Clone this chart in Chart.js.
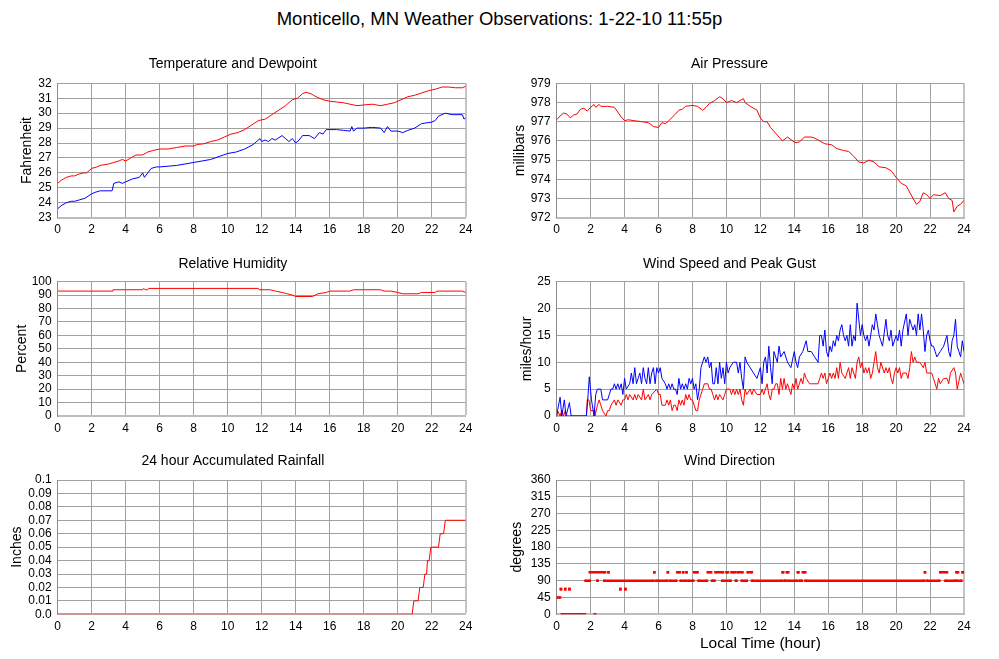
<!DOCTYPE html>
<html>
<head>
<meta charset="utf-8">
<title>Monticello, MN Weather Observations</title>
<script src="https://cdn.jsdelivr.net/npm/chart.js@4.4.1/dist/chart.umd.min.js"></script>
<style>
  body { margin: 0; background: #fff; }
  #page { position: relative; width: 999px; height: 659px; overflow: hidden; }
  #mainTitle {
    position: absolute; left: 0; top: 8px; width: 999px; line-height: 24px;
    text-align: center; font: 18.5px 'Liberation Sans', Arial, sans-serif; color: #000;
  }
  canvas { position: absolute; }
</style>
</head>
<body>
<div id="page">
  <div id="mainTitle">Monticello, MN Weather Observations: 1-22-10 11:55p</div>
  <canvas id="tempChart" width="490" height="190" style="left:0;top:50px"></canvas>
  <canvas id="presChart" width="495" height="190" style="left:495px;top:50px"></canvas>
  <canvas id="humChart" width="490" height="190" style="left:0;top:250px"></canvas>
  <canvas id="windChart" width="495" height="190" style="left:495px;top:250px"></canvas>
  <canvas id="rainChart" width="490" height="200" style="left:0;top:447px"></canvas>
  <canvas id="dirChart" width="495" height="212" style="left:495px;top:447px"></canvas>
</div>

<script>
// ---- data (hours are local time, 0-24) ----
var hourTicks = [0, 2, 4, 6, 8, 10, 12, 14, 16, 18, 20, 22, 24];

var tempTicks = [23, 24, 25, 26, 27, 28, 29, 30, 31, 32];
var tempHours = [0, 0.2, 0.5, 0.8, 1, 1.2, 1.5, 1.7, 2, 2.3, 2.5, 3, 3.3, 3.6, 3.8, 4, 4.3, 4.6, 5, 5.3, 5.6, 6, 6.5, 7, 7.5, 8, 8.2, 8.6, 9, 9.4, 9.8, 10.2, 10.6, 11, 11.4, 11.8, 12.2, 12.6, 13, 13.4, 13.8, 14.1, 14.4, 14.6, 14.9, 15.2, 15.6, 16, 16.4, 16.8, 17.2, 17.6, 18, 18.5, 19, 19.4, 19.8, 20.2, 20.6, 21, 21.4, 21.8, 22.2, 22.6, 23, 23.4, 23.8, 24];
var tempVals  = [25.3, 25.5, 25.7, 25.8, 25.8, 25.9, 26.0, 26.0, 26.3, 26.4, 26.5, 26.6, 26.7, 26.8, 26.9, 26.8, 27.0, 27.2, 27.2, 27.4, 27.5, 27.6, 27.6, 27.7, 27.8, 27.8, 27.9, 27.95, 28.1, 28.2, 28.4, 28.6, 28.7, 28.9, 29.2, 29.5, 29.6, 29.9, 30.2, 30.5, 30.9, 31.0, 31.3, 31.4, 31.3, 31.1, 30.9, 30.8, 30.75, 30.7, 30.6, 30.5, 30.55, 30.6, 30.5, 30.6, 30.7, 30.9, 31.1, 31.2, 31.35, 31.5, 31.6, 31.75, 31.75, 31.7, 31.7, 31.8];
var dewHours = [0, 0.2, 0.5, 0.8, 1, 1.3, 1.6, 2, 2.2, 2.5, 3.2, 3.3, 3.6, 3.8, 4, 4.4, 4.8, 5, 5.1, 5.3, 5.5, 5.8, 6, 6.5, 7, 7.5, 8, 8.5, 9, 9.5, 10, 10.5, 11, 11.5, 11.9, 12, 12.2, 12.4, 12.6, 12.8, 13, 13.2, 13.4, 13.6, 13.8, 14, 14.2, 14.4, 14.8, 15.1, 15.4, 15.6, 15.8, 16, 16.4, 16.8, 17.2, 17.3, 17.4, 17.6, 18, 18.5, 19, 19.2, 19.4, 19.6, 20, 20.3, 20.6, 21, 21.4, 22, 22.2, 22.4, 22.8, 23.2, 23.8, 23.9, 24];
var dewVals  = [23.6, 23.8, 24.0, 24.1, 24.1, 24.2, 24.3, 24.6, 24.7, 24.8, 24.8, 25.3, 25.4, 25.3, 25.4, 25.6, 25.7, 26.0, 25.7, 26.0, 26.3, 26.4, 26.4, 26.45, 26.5, 26.6, 26.7, 26.8, 26.9, 27.1, 27.3, 27.4, 27.6, 27.9, 28.3, 28.1, 28.2, 28.1, 28.3, 28.2, 28.35, 28.5, 28.3, 28.1, 28.3, 28.0, 28.2, 28.5, 28.5, 28.3, 28.7, 28.6, 28.9, 28.9, 28.9, 28.85, 28.8, 29.1, 28.8, 29.0, 29.0, 29.05, 29.0, 28.7, 29.1, 28.8, 28.8, 28.7, 28.85, 29.0, 29.3, 29.4, 29.5, 29.8, 30.0, 29.9, 29.9, 29.6, 29.7];

var presTicks = [972, 973, 974, 975, 976, 977, 978, 979];
var presHours = [0, 0.2, 0.4, 0.6, 0.8, 1.0, 1.2, 1.4, 1.6, 1.8, 2.0, 2.2, 2.3, 2.5, 2.6, 3.0, 3.4, 3.6, 3.8, 4.0, 4.2, 4.6, 5.0, 5.4, 5.7, 6.0, 6.2, 6.4, 6.6, 7.0, 7.2, 7.4, 7.6, 8.0, 8.3, 8.6, 8.8, 9.0, 9.3, 9.6, 9.8, 10.0, 10.3, 10.6, 11.0, 11.1, 11.4, 11.8, 12.0, 12.2, 12.4, 12.6, 13.0, 13.3, 13.6, 13.9, 14.1, 14.3, 14.6, 15.0, 15.2, 15.5, 15.8, 16.2, 16.5, 16.9, 17.2, 17.5, 17.8, 18.1, 18.4, 18.7, 19.0, 19.4, 19.7, 20.0, 20.3, 20.6, 21.0, 21.2, 21.4, 21.6, 21.8, 22.0, 22.2, 22.6, 22.9, 23.1, 23.3, 23.4, 23.6, 23.8, 24.0];
var presVals  = [977.1, 977.3, 977.45, 977.4, 977.2, 977.35, 977.4, 977.65, 977.7, 977.55, 977.75, 977.9, 977.75, 977.9, 977.8, 977.8, 977.75, 977.5, 977.25, 977.05, 977.1, 977.05, 977.0, 976.95, 976.75, 976.7, 976.95, 976.9, 977.05, 977.4, 977.6, 977.65, 977.8, 977.85, 977.8, 977.6, 977.75, 977.95, 978.1, 978.3, 978.2, 978.0, 978.1, 978.0, 978.2, 978.0, 977.8, 977.6, 977.2, 977.0, 977.0, 976.7, 976.3, 976.0, 976.2, 976.0, 975.9, 975.95, 976.2, 976.2, 976.15, 976.0, 975.85, 975.8, 975.6, 975.5, 975.45, 975.2, 974.9, 974.85, 975.0, 974.9, 974.65, 974.6, 974.45, 974.1, 973.8, 973.65, 973.0, 972.7, 972.85, 973.3, 973.2, 973.0, 973.2, 973.15, 973.3, 973.0, 972.9, 972.3, 972.6, 972.7, 972.9];

var humTicks = [0, 10, 20, 30, 40, 50, 60, 70, 80, 90, 100];
var humHours = [0, 3.2, 3.25, 5.0, 5.05, 5.15, 5.3, 5.35, 11.8, 11.85, 11.9, 12.5, 12.8, 13.2, 13.5, 13.8, 14.0, 15.0, 15.3, 15.8, 16.0, 17.2, 17.4, 19.0, 19.2, 19.6, 20.0, 20.3, 21.2, 21.4, 22.2, 22.3, 23.8, 24];
var humVals  = [93, 93, 94, 94, 95, 94, 94, 95, 95, 94, 94, 94, 93, 92, 91, 90, 89, 89, 91, 92, 93, 93, 94, 94, 93, 93, 92, 91, 91, 92, 92, 93, 93, 92];

var windTicks = [0, 5, 10, 15, 20, 25];
var gustHours = [0, 0.05, 0.2, 0.3, 0.45, 0.55, 0.75, 0.85, 1.75, 1.85, 1.92, 2.05, 2.2, 2.3, 2.4, 2.6, 2.7, 3.0, 3.1, 3.2, 3.3, 3.4, 3.5, 3.6, 3.7, 3.8, 3.9, 4.0, 4.1, 4.3, 4.4, 4.5, 4.6, 4.7, 4.8, 4.9, 5.0, 5.1, 5.2, 5.3, 5.4, 5.5, 5.6, 5.7, 5.8, 5.9, 6.0, 6.1, 6.2, 6.4, 6.5, 6.6, 6.7, 6.8, 6.9, 7.0, 7.1, 7.2, 7.3, 7.4, 7.5, 7.6, 7.7, 7.8, 7.9, 8.0, 8.1, 8.2, 8.3, 8.4, 8.5, 8.6, 8.7, 8.8, 8.9, 9.0, 9.1, 9.2, 9.3, 9.4, 9.5, 9.6, 9.7, 9.8, 9.9, 10.0, 10.1, 10.2, 10.4, 10.6, 10.7, 10.8, 10.9, 11.0, 11.1, 11.2, 11.4, 11.6, 11.8, 12.0, 12.1, 12.2, 12.3, 12.4, 12.5, 12.6, 12.7, 12.8, 12.9, 13.0, 13.1, 13.2, 13.4, 13.6, 13.8, 14.0, 14.1, 14.2, 14.3, 14.5, 14.7, 14.8, 15.0, 15.2, 15.4, 15.5, 15.6, 15.7, 15.8, 15.9, 16.0, 16.1, 16.2, 16.3, 16.4, 16.5, 16.6, 16.7, 16.8, 16.9, 17.0, 17.1, 17.2, 17.3, 17.4, 17.5, 17.6, 17.7, 17.8, 17.9, 18.0, 18.1, 18.2, 18.3, 18.4, 18.6, 18.7, 18.8, 18.9, 19.0, 19.1, 19.2, 19.4, 19.5, 19.6, 19.7, 19.8, 20.0, 20.1, 20.2, 20.3, 20.4, 20.6, 20.7, 20.8, 20.9, 21.0, 21.1, 21.2, 21.3, 21.4, 21.5, 21.6, 21.7, 21.8, 21.9, 22.0, 22.1, 22.2, 22.3, 22.4, 22.6, 22.8, 23.0, 23.1, 23.2, 23.3, 23.4, 23.5, 23.6, 23.7, 23.8, 23.9, 24.0];
var gustVals  = [0, 1, 3.5, 0, 3, 0, 2.5, 0, 0, 4, 7.3, 3, 0, 4, 5, 5, 3, 3, 4, 5, 5, 6, 5, 6, 5, 6, 4, 7, 5, 6, 8, 6, 9, 6, 7, 8, 6, 9, 7, 6, 9, 6, 8, 9, 6, 9, 8, 9, 7, 6, 5, 6, 5, 6, 5, 5, 4, 7, 5, 6, 5, 6, 5, 7, 6, 7, 5, 6, 3, 5, 9, 10, 11, 10, 11, 9, 10, 6, 6, 9, 6, 10, 7, 9, 6, 10, 8, 9, 10, 10, 8, 10, 7, 5, 11, 10, 9, 8, 7, 9, 6, 10, 11, 8, 13, 9, 6, 12, 11, 10, 13, 11, 12, 10, 9, 12, 10, 9, 11, 12, 14, 12, 12, 11, 10, 15, 15, 13, 16, 12, 11, 13, 12, 14, 13, 15, 14, 16, 17, 15, 14, 15, 13, 17, 13, 15, 14, 21, 18, 15, 17, 15, 14, 15, 13, 17, 16, 19, 17, 15, 14, 13, 18, 15, 14, 16, 13, 15, 14, 16, 13, 16, 19, 15, 18, 17, 16, 17, 15, 19, 16, 19, 16, 12, 15, 16, 14, 13, 13, 12, 11, 12, 13, 15, 12, 11, 14, 15, 18, 13, 12, 11, 14, 12];
var sustHours = [0, 0.05, 0.2, 0.3, 0.4, 0.5, 0.6, 1.75, 1.8, 1.9, 2.0, 2.2, 2.25, 2.4, 2.5, 2.6, 2.7, 2.9, 3.0, 3.1, 3.2, 3.4, 3.5, 3.6, 3.8, 3.9, 4.0, 4.1, 4.2, 4.3, 4.5, 4.6, 4.7, 4.8, 5.0, 5.1, 5.2, 5.4, 5.5, 5.6, 5.9, 6.0, 6.1, 6.2, 6.4, 6.5, 6.6, 6.7, 6.8, 6.9, 7.0, 7.1, 7.2, 7.3, 7.4, 7.5, 7.6, 7.7, 7.8, 7.9, 8.0, 8.1, 8.2, 8.3, 8.4, 8.6, 8.7, 8.9, 9.0, 9.1, 9.2, 9.3, 9.4, 9.5, 9.6, 9.8, 9.9, 10.0, 10.2, 10.3, 10.4, 10.5, 10.6, 10.7, 10.8, 10.9, 11.0, 11.1, 11.2, 11.4, 11.5, 11.6, 11.8, 12.0, 12.1, 12.2, 12.3, 12.4, 12.5, 12.6, 12.7, 12.8, 12.9, 13.0, 13.1, 13.2, 13.3, 13.4, 13.5, 13.6, 13.7, 13.8, 13.9, 14.0, 14.1, 14.2, 14.3, 14.4, 14.5, 14.6, 14.7, 14.9, 15.0, 15.2, 15.4, 15.5, 15.6, 15.7, 15.8, 15.9, 16.0, 16.1, 16.2, 16.3, 16.4, 16.5, 16.6, 16.7, 16.8, 17.0, 17.1, 17.2, 17.3, 17.4, 17.5, 17.6, 17.7, 17.8, 17.9, 18.0, 18.1, 18.2, 18.3, 18.4, 18.5, 18.6, 18.8, 18.9, 19.0, 19.1, 19.3, 19.4, 19.5, 19.6, 19.7, 19.8, 19.9, 20.0, 20.1, 20.2, 20.3, 20.4, 20.6, 20.7, 20.8, 20.9, 21.0, 21.1, 21.2, 21.4, 21.6, 21.7, 21.8, 22.1, 22.2, 22.3, 22.4, 22.5, 22.6, 22.8, 23.0, 23.1, 23.2, 23.4, 23.5, 23.6, 23.8, 23.9, 24.0];
var sustVals  = [0, 1, 0, 1, 0, 1, 0, 0, 3, 3, 1, 1, 0, 2, 3, 2, 1, 0, 1, 1, 2, 3, 2, 3, 2, 3, 3, 4, 3, 4, 3, 4, 3, 4, 3, 5, 3, 4, 3, 4, 5, 4, 4, 2, 2, 3, 2, 3, 1, 2, 2, 1, 3, 2, 3, 2, 4, 3, 4, 3, 3, 2, 1, 1, 3, 5, 6, 6, 5, 5, 4, 3, 4, 3, 4, 3, 4, 5, 5, 4, 5, 4, 5, 4, 5, 3, 2, 5, 4, 5, 4, 5, 4, 4, 5, 4, 5, 6, 4, 3, 5, 5, 6, 6, 4, 7, 5, 7, 5, 6, 5, 4, 6, 5, 7, 5, 6, 7, 6, 8, 7, 6, 6, 6, 6, 7, 8, 7, 8, 6, 7, 8, 7, 8, 7, 9, 7, 10, 8, 7, 8, 9, 7, 9, 8, 7, 10, 11, 9, 10, 8, 9, 8, 9, 7, 8, 12, 9, 8, 10, 8, 9, 8, 9, 7, 6, 8, 9, 8, 9, 7, 8, 8, 7, 9, 12, 10, 11, 10, 10, 9, 10, 8, 8, 7, 6, 5, 7, 6, 7, 7, 6, 8, 9, 8, 5, 8, 7, 6];

var rainTicks = [0, 0.01, 0.02, 0.03, 0.04, 0.05, 0.06, 0.07, 0.08, 0.09, 0.1];
var rainTickLabels = ['0.0', '0.01', '0.02', '0.03', '0.04', '0.05', '0.06', '0.07', '0.08', '0.09', '0.1'];
var rainHours = [0, 20.85, 20.95, 21.2, 21.3, 21.5, 21.6, 21.7, 21.75, 21.85, 21.95, 22.4, 22.5, 22.7, 22.8, 24];
var rainVals  = [0, 0, 0.01, 0.01, 0.02, 0.02, 0.03, 0.03, 0.04, 0.04, 0.05, 0.05, 0.06, 0.06, 0.07, 0.07];

var dirTicks = [0, 45, 90, 135, 180, 225, 270, 315, 360];
// runs of identical wind direction readings: [start hour, end hour]
var dir0Runs   = [[0.3, 1.65], [2.25, 2.25]];
var dir45Runs  = [[0, 0.2]];
var dir67Runs  = [[0.25, 0.25], [0.5, 0.5], [0.75, 0.75], [3.75, 3.75], [4.05, 4.05]];
var dir90Runs  = [[1.7, 1.95], [2.4, 2.4], [2.8, 5.7], [5.85, 6.5], [6.65, 7.05], [7.3, 7.6], [7.75, 8.05], [8.35, 8.85], [9.15, 9.3], [9.75, 10.25], [10.55, 10.6], [10.9, 11.2], [11.5, 13.25], [13.4, 13.5], [13.65, 14.15], [14.3, 14.45], [14.65, 21.65], [21.8, 22.55], [22.9, 23.45], [23.55, 23.85]];
var dir112Runs = [[1.95, 2.85], [3.05, 3.05], [5.75, 5.75], [6.55, 6.55], [7.1, 7.25], [7.45, 7.45], [7.65, 7.65], [8.1, 8.3], [8.9, 9.1], [9.35, 9.8], [10.0, 10.1], [10.3, 10.5], [10.65, 10.95], [11.25, 11.5], [13.3, 13.35], [13.55, 13.65], [14.2, 14.25], [14.5, 14.65], [21.7, 21.7], [22.6, 23.0], [23.55, 23.65], [23.9, 24.0]];

// ---- helpers ----
Chart.defaults.font.family = "'Liberation Sans', Arial, sans-serif";
Chart.defaults.color = '#000';
Chart.defaults.animation = false;

var RED = '#ff0000';
var BLUE = '#0000ff';

function pts(xs, ys) {
  return xs.map(function (x, i) { return { x: x, y: ys[i] }; });
}

function runPts(runs, deg) {
  var out = [];
  runs.forEach(function (r) {
    out.push({ x: r[0], y: deg });
    out.push({ x: r[1], y: deg });
    out.push({ x: r[1] + 0.001, y: null });
  });
  return out;
}

function lineSet(data, color) {
  return { data: data, borderColor: color, borderWidth: 1, pointRadius: 0, tension: 0, spanGaps: false };
}

// cfg: title, yTitle, yTitlePad, yTicks, yLabels, yWidth, padRight, titleBottom, xHeight, xTitle, datasets
function makeChart(id, cfg) {
  var ctx = document.getElementById(id).getContext('2d');
  var xScale = {
    type: 'linear', min: 0, max: 24,
    afterBuildTicks: function (s) { s.ticks = hourTicks.map(function (v) { return { value: v }; }); },
    afterFit: function (s) { s.height = cfg.xHeight; },
    ticks: { font: { size: 12 }, padding: 5, maxRotation: 0, autoSkip: false },
    grid: {
      drawTicks: false,
      color: function (c) { return c.tick && c.tick.value === 24 ? '#c4c4c4' : '#a0a0a0'; },
      lineWidth: function (c) { return c.tick && c.tick.value === 24 ? 2 : 1; }
    },
    border: { color: '#bdbdbd', width: 2 }
  };
  if (cfg.xTitle) {
    xScale.title = { display: true, text: cfg.xTitle, font: { size: 15.5 }, padding: { top: 0, bottom: 5.5 } };
  }
  new Chart(ctx, {
    type: 'line',
    data: { datasets: cfg.datasets },
    options: {
      responsive: false,
      layout: { padding: { top: 0, left: 0, right: cfg.padRight, bottom: 0 } },
      plugins: {
        legend: { display: false },
        tooltip: { enabled: false },
        title: {
          display: true, text: cfg.title, color: '#000',
          font: { size: 14, weight: 'normal' },
          padding: { top: 6.2, bottom: cfg.titleBottom - 0.6 }
        }
      },
      scales: {
        x: xScale,
        y: {
          type: 'linear',
          min: cfg.yTicks[0], max: cfg.yTicks[cfg.yTicks.length - 1],
          afterBuildTicks: function (s) { s.ticks = cfg.yTicks.map(function (v) { return { value: v }; }); },
          afterFit: function (s) { s.width = cfg.yWidth; },
          ticks: {
            font: { size: 12 }, padding: 6, autoSkip: false,
            callback: function (v, i) { return cfg.yLabels ? cfg.yLabels[i] : String(v); }
          },
          grid: { drawTicks: false, color: '#a0a0a0', lineWidth: 1 },
          border: { color: '#8a8a8a', width: 1 },
          title: { display: true, text: cfg.yTitle, font: { size: 14 }, padding: { top: cfg.yTitlePad, bottom: 0 } }
        }
      }
    }
  });
}

// ---- charts ----
makeChart('tempChart', {
  title: 'Temperature and Dewpoint', yTitle: 'Fahrenheit', yTitlePad: 18.3,
  yTicks: tempTicks, yWidth: 57.7, padRight: 24.3, titleBottom: 10.9, xHeight: 22.3,
  datasets: [lineSet(pts(tempHours, tempVals), RED), lineSet(pts(dewHours, dewVals), BLUE)]
});

makeChart('presChart', {
  title: 'Air Pressure', yTitle: 'millibars', yTitlePad: 16.6,
  yTicks: presTicks, yWidth: 61.7, padRight: 26, titleBottom: 10.9, xHeight: 22.3,
  datasets: [lineSet(pts(presHours, presVals), RED)]
});

makeChart('humChart', {
  title: 'Relative Humidity', yTitle: 'Percent', yTitlePad: 13.3,
  yTicks: humTicks, yWidth: 57.7, padRight: 24.3, titleBottom: 9.3, xHeight: 24,
  datasets: [lineSet(pts(humHours, humVals), RED)]
});

makeChart('windChart', {
  title: 'Wind Speed and Peak Gust', yTitle: 'miles/hour', yTitlePad: 23.6,
  yTicks: windTicks, yWidth: 61.7, padRight: 26, titleBottom: 9.3, xHeight: 24,
  datasets: [lineSet(pts(gustHours, gustVals), BLUE), lineSet(pts(sustHours, sustVals), RED)]
});

makeChart('rainChart', {
  title: '24 hour Accumulated Rainfall', yTitle: 'Inches', yTitlePad: 8.9,
  yTicks: rainTicks, yLabels: rainTickLabels, yWidth: 57.7, padRight: 24.3, titleBottom: 10.6, xHeight: 32.7,
  datasets: [lineSet(pts(rainHours, rainVals), RED)]
});

function dirSet(runs, deg) {
  return {
    data: runPts(runs, deg), borderColor: RED, backgroundColor: RED, borderWidth: 2.5,
    pointStyle: 'rect', pointRadius: 1.8, pointBorderWidth: 0, tension: 0, spanGaps: false
  };
}

makeChart('dirChart', {
  title: 'Wind Direction', yTitle: 'degrees', yTitlePad: 13.6,
  yTicks: dirTicks, yWidth: 61.7, padRight: 26, titleBottom: 10.6, xHeight: 44.7,
  xTitle: 'Local Time (hour)',
  datasets: [dirSet(dir0Runs, 0), dirSet(dir45Runs, 45), dirSet(dir67Runs, 67.5), dirSet(dir90Runs, 90), dirSet(dir112Runs, 112.5)]
});
</script>
</body>
</html>
